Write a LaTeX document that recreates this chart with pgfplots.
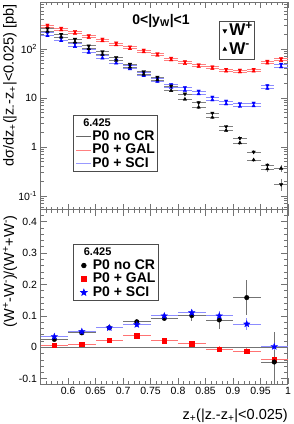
\documentclass[border=0pt]{standalone}
\usepackage{fontspec}
\setmainfont{Liberation Sans}
\usepackage{pgfplots}
\pgfplotsset{compat=1.18}
\usepackage{pgfplotstable}

\pgfdeclareplotmark{fstar}{%
  \pgfpathmoveto{\pgfpointpolar{90}{\pgfplotmarksize}}%
  \pgfpathlineto{\pgfpointpolar{126}{0.42\pgfplotmarksize}}%
  \pgfpathlineto{\pgfpointpolar{162}{\pgfplotmarksize}}%
  \pgfpathlineto{\pgfpointpolar{198}{0.42\pgfplotmarksize}}%
  \pgfpathlineto{\pgfpointpolar{234}{\pgfplotmarksize}}%
  \pgfpathlineto{\pgfpointpolar{270}{0.42\pgfplotmarksize}}%
  \pgfpathlineto{\pgfpointpolar{306}{\pgfplotmarksize}}%
  \pgfpathlineto{\pgfpointpolar{342}{0.42\pgfplotmarksize}}%
  \pgfpathlineto{\pgfpointpolar{18}{\pgfplotmarksize}}%
  \pgfpathlineto{\pgfpointpolar{54}{0.42\pgfplotmarksize}}%
  \pgfpathclose\pgfusepathqfillstroke}

% top panel: W+ (wp) and W- (wm) with relative errors
\pgfplotstableread{
x      wp    ep    wm    em
0.5625 309   0.03  281   0.03
0.5875 268   0.03  244   0.03
0.6125 230   0.03  209   0.03
0.6375 187   0.03  170   0.03
0.6625 160   0.03  146   0.03
0.6875 133   0.03  121   0.03
0.7125 111   0.03  101   0.03
0.7375 95.4  0.03  86.9  0.03
0.7625 80.9  0.03  73.7  0.03
0.7875 65.5  0.03  59.6  0.03
0.8125 55.1  0.03  50.1  0.03
0.8375 47.8  0.04  43.5  0.04
0.8625 43.5  0.04  39.6  0.04
0.8875 38.7  0.04  35.2  0.04
0.9125 37.3  0.04  33.9  0.04
0.9375 38.7  0.04  35.2  0.04
0.9625 56.4  0.05  51.3  0.05
0.9875 63.4  0.07  57.7  0.07
}\redtop

\pgfplotstableread{
x      wp    ep    wm    em
0.5625 262   0.03  228   0.03
0.5875 200   0.03  174   0.03
0.6125 158.5 0.03  138   0.03
0.6375 116   0.03  101   0.03
0.6625 88.9  0.03  77.2  0.03
0.6875 67.1  0.03  58.3  0.03
0.7125 49.0  0.03  42.5  0.03
0.7375 34.7  0.03  30.2  0.03
0.7625 26.8  0.03  23.3  0.03
0.7875 17.6  0.04  14.1  0.04
0.8125 12.1  0.05  9.41  0.05
0.8375 8.02  0.06  6.46  0.06
0.8625 4.94  0.07  4.00  0.07
0.8875 2.62  0.08  2.17  0.08
0.9125 1.51  0.09  1.21  0.09
0.9375 0.791 0.10  0.543 0.10
0.9625 0.429 0.12  0.356 0.12
0.9875 0.172 0.28  0.367 0.15
}\blacktop

\pgfplotstableread{
x      wp    ep    wm    em
0.5625 214   0.03  186   0.03
0.5875 169   0.03  147   0.03
0.6125 130   0.03  112   0.03
0.6375 97.7  0.03  84.8  0.03
0.6625 74.7  0.03  64.9  0.03
0.6875 59.1  0.03  51.3  0.03
0.7125 45.4  0.03  39.4  0.03
0.7375 32.7  0.03  28.4  0.03
0.7625 25.0  0.03  21.7  0.03
0.7875 18.9  0.05  16.4  0.05
0.8125 16.4  0.05  14.2  0.05
0.8375 13.9  0.05  12.1  0.05
0.8625 10.5  0.05  9.10  0.05
0.8875 8.69  0.05  7.54  0.05
0.9125 7.72  0.05  6.71  0.05
0.9375 7.91  0.05  6.87  0.05
0.9625 18.0  0.06  15.6  0.06
0.9875 49.4  0.05  42.9  0.05
}\bluetop

% bottom panel: asymmetry (W+ - W-)/(W+ + W-)
\pgfplotstableread{
x     y      e
0.575 0.025  0.006
0.625 0.046  0.006
0.675 0.062  0.007
0.725 0.081  0.008
0.775 0.092  0.010
0.825 0.101  0.018
0.875 0.087  0.030
0.925 0.158  0.056
0.975 -0.047 0.097
}\blackbot

\pgfplotstableread{
x     y      e
0.575 0.007  0.004
0.625 0.010  0.004
0.675 0.023  0.005
0.725 0.037  0.005
0.775 0.021  0.006
0.825 0.011  0.007
0.875 -0.006 0.009
0.925 -0.012 0.010
0.975 -0.040 0.012
}\redbot

\pgfplotstableread{
x     y      e
0.575 0.034  0.006
0.625 0.050  0.006
0.675 0.062  0.007
0.725 0.072  0.008
0.775 0.100  0.010
0.825 0.110  0.013
0.875 0.100  0.016
0.925 0.074  0.020
0.975 0.002  0.012
}\bluebot

\pgfplotsset{
  rootaxis/.style={
    scale only axis, width=247.4pt,
    xmin=0.55, xmax=1,
    axis line style={black!55, line width=1pt},
    tick align=inside, major tick length=6.5pt, minor tick length=3.5pt,
    every tick/.style={black!55, line width=0.6pt},
    xtick={0.6,0.65,0.7,0.75,0.8,0.85,0.9,0.95,1},
    minor xtick={0.56,0.57,0.58,0.59,0.61,0.62,0.63,0.64,0.66,0.67,0.68,0.69,0.71,0.72,0.73,0.74,0.76,0.77,0.78,0.79,0.81,0.82,0.83,0.84,0.86,0.87,0.88,0.89,0.91,0.92,0.93,0.94,0.96,0.97,0.98,0.99},
    tick label style={font=\fontsize{10.5}{11}\selectfont},
    /pgf/number format/assume math mode=true,
    legend cell align=left,
  },
  biglegend/.style={legend style={at={#1}, anchor=north west, draw=black!70, line width=0.7pt,
    font=\bfseries\fontsize{14}{14}\selectfont, inner xsep=2pt, inner ysep=1pt,
    nodes={inner sep=0.5pt, text height=10pt, text depth=2.5pt}}},
  toperr/.style={error bars/.cd, y dir=both, y explicit relative, x dir=both, x fixed=0.0125, error mark=none, error bar style={#1, line width=0.8pt}},
  boterr/.style={error bars/.cd, y dir=both, y explicit, x dir=both, x fixed=0.025, error mark=none, error bar style={#1, line width=0.8pt}},
}

\begin{document}
\begin{tikzpicture}
\path[use as bounding box] (0pt,0pt) rectangle (293pt,424pt);

% ---------------- top panel ----------------
\begin{axis}[rootaxis, at={(40.6pt,214pt)}, anchor=south west, height=208pt,
  ymode=log, ymin=0.0518, ymax=910,
  ytick={0.1,1,10,100},
  yticklabels={10\textsuperscript{-1},1,10,10\textsuperscript{2}},
  minor ytick={0.06,0.07,0.08,0.09,0.2,0.3,0.4,0.5,0.6,0.7,0.8,0.9,2,3,4,5,6,7,8,9,20,30,40,50,60,70,80,90,200,300,400,500,600,700,800,900},
  xticklabels={},
  biglegend={(0.131,0.457)},
  legend image code/.code={\draw[#1] (1pt,0pt) -- (16pt,0pt);},
]
\addlegendimage{empty legend}
\addlegendentry{\hspace*{-9pt}\fontsize{11}{11}\selectfont 6.425}
\addlegendimage{black!60, line width=0.8pt}
\addlegendentry{P0 no CR}
\addlegendimage{red!50, line width=0.9pt}
\addlegendentry{P0 + GAL}
\addlegendimage{blue!40, line width=0.9pt}
\addlegendentry{P0 + SCI}

\addplot[forget plot, only marks, blue, mark=triangle*, mark size=2pt, mark options={rotate=180}, toperr=blue!45] table[x=x, y=wp, y error=ep] \bluetop;
\addplot[forget plot, only marks, blue, mark=triangle*, mark size=2pt, toperr=blue!45] table[x=x, y=wm, y error=em] \bluetop;
\addplot[forget plot, only marks, red, mark=triangle*, mark size=2pt, mark options={rotate=180}, toperr=red!50] table[x=x, y=wp, y error=ep] \redtop;
\addplot[forget plot, only marks, red, mark=triangle*, mark size=2pt, toperr=red!50] table[x=x, y=wm, y error=em] \redtop;
\addplot[forget plot, only marks, black, mark=triangle*, mark size=2pt, mark options={rotate=180}, toperr=black!50] table[x=x, y=wp, y error=ep] \blacktop;
\addplot[forget plot, only marks, black, mark=triangle*, mark size=2pt, toperr=black!50] table[x=x, y=wm, y error=em] \blacktop;
\end{axis}

% W+ / W- legend (overlay)
\begin{axis}[at={(40.6pt,214pt)}, anchor=south west, scale only axis, width=247.4pt, height=208pt,
  hide axis, xmin=0, xmax=1, ymin=0, ymax=1,
  legend style={at={(0.721,0.91)}, anchor=north west, draw=black!70, line width=0.7pt,
    font=\bfseries\fontsize{17}{17}\selectfont, inner xsep=1.5pt, inner ysep=0.5pt,
    nodes={inner sep=0.5pt, text height=13.5pt, text depth=4pt}},
  legend cell align=left,
  legend image code/.code={\draw[#1] plot coordinates {(4pt,0pt)}; \path[draw=none, fill=none] (0pt,0pt) (8pt,0pt);},
]
\addlegendimage{only marks, black, mark=triangle*, mark size=2pt, mark options={rotate=180}}
\addlegendentry{W\textsuperscript{+}}
\addlegendimage{only marks, black, mark=triangle*, mark size=2pt}
\addlegendentry{W\textsuperscript{-}}
\end{axis}

% ---------------- bottom panel ----------------
\begin{axis}[rootaxis, at={(40.6pt,40pt)}, anchor=south west, height=174pt,
  ymin=-0.117, ymax=0.437,
  ytick={-0.1,0,0.1,0.2,0.3,0.4},
  minor ytick={-0.08,-0.06,-0.04,-0.02,0.02,0.04,0.06,0.08,0.12,0.14,0.16,0.18,0.22,0.24,0.26,0.28,0.32,0.34,0.36,0.38,0.42},
  biglegend={(0.131,0.805)},
  legend image code/.code={\draw[#1] plot coordinates {(8.5pt,0pt)}; \path[draw=none, fill=none] (0pt,0pt) (17pt,0pt);},
]
\addlegendimage{empty legend}
\addlegendentry{\hspace*{-9pt}\fontsize{11}{11}\selectfont 6.425}
\addlegendimage{only marks, black, mark=*, mark size=2.3pt}
\addlegendentry{P0 no CR}
\addlegendimage{only marks, red, mark=square*, mark size=2.2pt}
\addlegendentry{P0 + GAL}
\addlegendimage{only marks, blue, mark=fstar, mark size=3.3pt}
\addlegendentry{P0 + SCI}

\addplot[forget plot, black!55, line width=0.8pt] coordinates {(0.55,0) (1,0)};
\addplot[forget plot, only marks, red, mark=square*, mark size=2.2pt, boterr=red!55] table[x=x, y=y, y error=e] \redbot;
\addplot[forget plot, only marks, black, mark=*, mark size=2.3pt, boterr=black!55] table[x=x, y=y, y error=e] \blackbot;
\addplot[forget plot, only marks, blue, mark=fstar, mark size=3.3pt, boterr=blue!45] table[x=x, y=y, y error=e] \bluebot;
\end{axis}

% titles and axis labels
\node[font=\bfseries\fontsize{14}{15}\selectfont] at (161pt,403.5pt) {0<|y\textsubscript{W}|<1};
\node[rotate=90, anchor=east, font=\fontsize{14.5}{15}\selectfont, inner sep=0pt] at (10pt,420pt)
  {dσ/dz\textsubscript{+}(|z\textsubscript{-}-z\textsubscript{+}|<0.025) [pb]};
\node[rotate=90, anchor=east, font=\fontsize{14.5}{15}\selectfont, inner sep=0pt] at (10pt,209pt)
  {(W\textsuperscript{+}-W\textsuperscript{-})/(W\textsuperscript{+}+W\textsuperscript{-})};
\node[anchor=east, font=\fontsize{14.5}{15}\selectfont, inner sep=0pt] at (288pt,8.5pt)
  {z\textsubscript{+}(|z\textsubscript{-}-z\textsubscript{+}|<0.025)};
\end{tikzpicture}
\end{document}
